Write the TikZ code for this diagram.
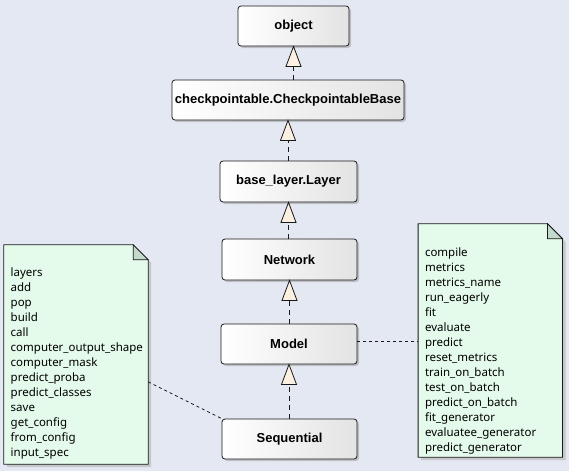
\documentclass[tikz,border=0pt]{standalone}
\usepackage{fontspec}
\setmainfont{Liberation Sans}
\newfontfamily\notefont{Noto Sans}
\usetikzlibrary{shadows,calc}
\definecolor{bgc}{RGB}{228,232,242}
\definecolor{notefill}{RGB}{228,250,234}
\definecolor{foldfill}{RGB}{195,217,203}
\definecolor{trifill}{RGB}{251,240,225}
\definecolor{boxline}{RGB}{25,25,25}
\newcommand{\inherit}[2]{%
  \draw[dashline] (#1.north -| #2.south) -- ([yshift=-20pt]#2.south);
  \draw[triline] (#2.south) -- ([xshift=-7.5pt,yshift=-20pt]#2.south) -- ([xshift=7.5pt,yshift=-20pt]#2.south) -- cycle;}
\begin{document}
\begin{tikzpicture}[x=1pt,y=-1pt,
  cls/.style={draw=boxline, line width=0.8pt, rounded corners=3pt,
    left color=white, right color=black!11, inner sep=0pt,
    font=\fontsize{13}{15}\selectfont\bfseries,
    drop shadow={shadow xshift=2pt,shadow yshift=-2pt,fill=black!40,opacity=0.5}},
  dashline/.style={draw=boxline, line width=0.8pt, dash pattern=on 5pt off 4pt},
  triline/.style={draw=boxline, line width=0.8pt, fill=trifill, line join=miter},
  notearea/.style={inner sep=0pt, draw=none},
  noteline/.style={draw=boxline, line width=0.8pt, fill=notefill, line join=miter},
  foldline/.style={draw=boxline, line width=0.8pt, fill=foldfill, line join=miter},
  noteshadow/.style={fill=black!30, opacity=0.6},
  notetext/.style={inner sep=0pt, align=left, anchor=north west, text=black,
    font=\notefont\fontsize{11.5}{15}\selectfont},
  notelink/.style={draw=boxline, line width=0.8pt, dash pattern=on 3pt off 3pt}
]
\fill[bgc] (0,0) rectangle (569,471);
\useasboundingbox (0,0) rectangle (569,471);

% class boxes
\node[cls, minimum width=111pt, minimum height=40pt] (obj) at (293.5,26) {object};
\node[cls, minimum width=232pt, minimum height=40pt] (cp) at (288,100) {checkpointable.CheckpointableBase};
\node[cls, minimum width=137pt, minimum height=41pt] (layer) at (288.5,181.5) {base\_layer.Layer};
\node[cls, minimum width=135pt, minimum height=41pt] (net) at (289.5,259.5) {Network};
\node[cls, minimum width=136pt, minimum height=40pt] (model) at (289,344) {Model};
\node[cls, minimum width=135pt, minimum height=40pt] (seq) at (289.5,439) {Sequential};

% inheritance
\inherit{cp}{obj}
\inherit{layer}{cp}
\inherit{net}{layer}
\inherit{model}{net}
\inherit{seq}{model}

% left note
\node[notearea, minimum width=144pt, minimum height=219pt] (ln) at (76,354.5) {};
\fill[noteshadow] ([xshift=3pt,yshift=-3pt]ln.north west) -- ([xshift=-12pt,yshift=-3pt]ln.north east) -- ([xshift=3pt,yshift=-18pt]ln.north east) -- ([xshift=3pt,yshift=-3pt]ln.south east) -- ([xshift=3pt,yshift=-3pt]ln.south west) -- cycle;
\draw[noteline] (ln.north west) -- ([xshift=-15pt]ln.north east) -- ([yshift=-15pt]ln.north east) -- (ln.south east) -- (ln.south west) -- cycle;
\draw[foldline] ([xshift=-15pt]ln.north east) -- ([xshift=-15pt,yshift=-15pt]ln.north east) -- ([yshift=-15pt]ln.north east) -- cycle;
\node[notetext] (lnt) at ([xshift=6.7pt,yshift=-23pt]ln.north west)
 {layers\\add\\pop\\build\\call\\computer\_output\_shape\\computer\_mask\\predict\_proba\\predict\_classes\\save\\get\_config\\from\_config\\input\_spec};

% right note
\node[notearea, minimum width=144pt, minimum height=233pt] (rn) at (490.3,340.5) {};
\fill[noteshadow] ([xshift=3pt,yshift=-3pt]rn.north west) -- ([xshift=-12pt,yshift=-3pt]rn.north east) -- ([xshift=3pt,yshift=-18pt]rn.north east) -- ([xshift=3pt,yshift=-3pt]rn.south east) -- ([xshift=3pt,yshift=-3pt]rn.south west) -- cycle;
\draw[noteline] (rn.north west) -- ([xshift=-15pt]rn.north east) -- ([yshift=-15pt]rn.north east) -- (rn.south east) -- (rn.south west) -- cycle;
\draw[foldline] ([xshift=-15pt]rn.north east) -- ([xshift=-15pt,yshift=-15pt]rn.north east) -- ([yshift=-15pt]rn.north east) -- cycle;
\node[notetext] (rnt) at ([xshift=6.7pt,yshift=-23.5pt]rn.north west)
 {compile\\metrics\\metrics\_name\\run\_eagerly\\fit\\evaluate\\predict\\reset\_metrics\\train\_on\_batch\\test\_on\_batch\\predict\_on\_batch\\fit\_generator\\evaluatee\_generator\\predict\_generator};

% note links
\coordinate (lnp) at ([yshift=-137pt]ln.north east);
\draw[notelink] (lnp) -- (seq.north west);
\draw[notelink] ([yshift=3pt]model.east) -- ([yshift=3pt]model.east -| rn.west);
\end{tikzpicture}
\end{document}
